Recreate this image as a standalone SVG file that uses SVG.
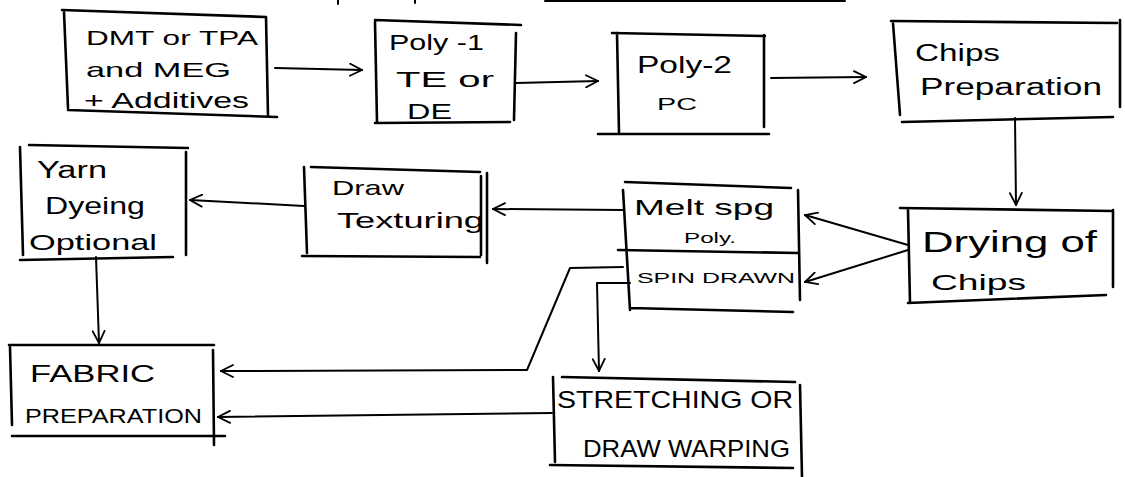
<svg xmlns="http://www.w3.org/2000/svg" width="1125" height="477" viewBox="0 0 1125 477" font-size="20">
<style>
.b{fill:none;stroke:#000;stroke-width:2.6;stroke-linecap:round;stroke-linejoin:round}
.c{fill:none;stroke:#000;stroke-width:2;stroke-linecap:round;stroke-linejoin:round}
text{font-family:"Liberation Sans","DejaVu Sans",sans-serif;fill:#000}
</style>
<defs>
<marker id="ah" viewBox="0 0 14 14" refX="13" refY="7" markerWidth="14" markerHeight="14" markerUnits="userSpaceOnUse" orient="auto">
<path d="M1,1 L13,7 L1,13" fill="none" stroke="#000" stroke-width="1.8" stroke-linecap="round"/>
</marker>
</defs>
<rect width="1125" height="477" fill="#fff"/>
<path class="c" d="M545,1 L845,1 M338,0 L338,4 M415,0 L415,3"/>

<g id="dmt">
<path class="b" d="M62,10 L266,17 M64,12 L68,108 M68,110 L277,117 M266,17 L268,116"/>
<text x="86" y="45" textLength="172" lengthAdjust="spacingAndGlyphs">DMT or TPA</text>
<text x="86" y="77" font-size="21" textLength="145" lengthAdjust="spacingAndGlyphs">and MEG</text>
<text x="84" y="108" font-size="22" textLength="165" lengthAdjust="spacingAndGlyphs">+ Additives</text>
</g>

<g id="poly1">
<path class="b" d="M375,20 L521,25 M375,22 L377,122 M375,123 L510,122 M516,33 L514,120"/>
<text x="389" y="50" font-size="22" textLength="95" lengthAdjust="spacingAndGlyphs">Poly -1</text>
<text x="396" y="87" font-size="22" textLength="98" lengthAdjust="spacingAndGlyphs">TE or</text>
<text x="407" y="119" font-size="22" textLength="45" lengthAdjust="spacingAndGlyphs">DE</text>
</g>

<g id="poly2">
<path class="b" d="M612,33 L765,36 M617,33 L619,133 M764,35 L764,127 M598,134 L769,134"/>
<text x="637" y="73" font-size="24" textLength="95" lengthAdjust="spacingAndGlyphs">Poly-2</text>
<text x="657" y="110" font-size="16" textLength="40" lengthAdjust="spacingAndGlyphs">PC</text>
</g>

<g id="chips">
<path class="b" d="M891,21 L1117,23 M893,23 L900,115 M1120,20 L1120,107 M902,122 L1113,117"/>
<text x="915" y="61" font-size="23" textLength="85" lengthAdjust="spacingAndGlyphs">Chips</text>
<text x="920" y="95" font-size="23" textLength="182" lengthAdjust="spacingAndGlyphs">Preparation</text>
</g>

<g id="drying">
<path class="b" d="M900,208 L1113,211 M908,210 L910,303 M1113,210 L1113,287 M908,303 L1106,295"/>
<text x="922" y="252" font-size="30" textLength="175" lengthAdjust="spacingAndGlyphs">Drying of</text>
<text x="931" y="290" font-size="22" textLength="95" lengthAdjust="spacingAndGlyphs">Chips</text>
</g>

<g id="melt">
<path class="b" d="M625,182 L791,188 M623,190 L630,310 M798,190 L800,300 M618,250 L798,253 M630,308 L793,312"/>
<text x="634" y="215" font-size="22" textLength="140" lengthAdjust="spacingAndGlyphs">Melt spg</text>
<text x="684" y="243" font-size="14" textLength="52" lengthAdjust="spacingAndGlyphs">Poly.</text>
<text x="637" y="283" font-size="15" textLength="158" lengthAdjust="spacingAndGlyphs">SPIN DRAWN</text>
</g>

<g id="draw">
<path class="b" d="M311,167 L480,172 M304,167 L307,253 M487,173 L487,263 M302,256 L480,257 M481,176 L481,255"/>
<text x="332" y="195" font-size="21" textLength="72" lengthAdjust="spacingAndGlyphs">Draw</text>
<text x="337" y="228" font-size="22" textLength="147" lengthAdjust="spacingAndGlyphs">Texturing</text>
</g>

<g id="yarn">
<path class="b" d="M29,145 L188,148 M20,147 L23,255 M186,152 L186,255 M20,260 L173,257"/>
<text x="37" y="178" font-size="23" textLength="70" lengthAdjust="spacingAndGlyphs">Yarn</text>
<text x="45" y="214" font-size="24" textLength="100" lengthAdjust="spacingAndGlyphs">Dyeing</text>
<text x="29" y="250" font-size="22" textLength="128" lengthAdjust="spacingAndGlyphs">Optional</text>
</g>

<g id="fabric">
<path class="b" d="M9,345 L214,345 M10,347 L12,425 M213,350 L214,445 M12,436 L225,436"/>
<text x="30" y="382" font-size="24" textLength="125" lengthAdjust="spacingAndGlyphs">FABRIC</text>
<text x="25" y="423" textLength="177" lengthAdjust="spacingAndGlyphs">PREPARATION</text>
</g>

<g id="stretching">
<path class="b" d="M562,377 L795,382 M553,377 L555,462 M800,385 L802,477 M550,465 L793,468"/>
<text x="557" y="408" font-size="24" textLength="236" lengthAdjust="spacingAndGlyphs">STRETCHING OR</text>
<text x="583" y="457" font-size="24" textLength="207" lengthAdjust="spacingAndGlyphs">DRAW WARPING</text>
</g>

<g id="connectors">
<path class="c" marker-end="url(#ah)" d="M275,68 L362,70"/>
<path class="c" marker-end="url(#ah)" d="M516,83 L598,81"/>
<path class="c" marker-end="url(#ah)" d="M771,78 L866,77"/>
<path class="c" marker-end="url(#ah)" d="M1015,118 L1016,205"/>
<path class="c" marker-end="url(#ah)" d="M908,245 L805,215"/>
<path class="c" marker-end="url(#ah)" d="M908,250 L805,282"/>
<path class="c" marker-end="url(#ah)" d="M623,210 L493,209"/>
<path class="c" marker-end="url(#ah)" d="M304,206 L190,200"/>
<path class="c" marker-end="url(#ah)" d="M96,257 L99,343"/>
<path class="c" marker-end="url(#ah)" d="M623,267 L570,268 L527,370 L221,371"/>
<path class="c" marker-end="url(#ah)" d="M630,283 L597,283 L599,371"/>
<path class="c" marker-end="url(#ah)" d="M552,413 L218,417"/>
</g>
</svg>
